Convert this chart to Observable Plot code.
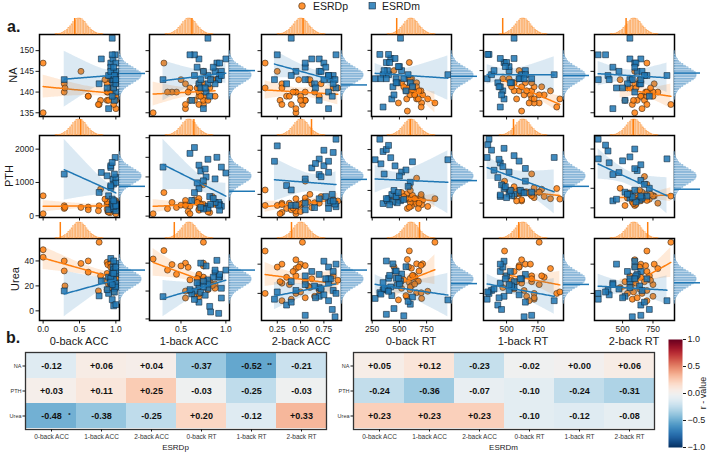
<!DOCTYPE html>
<html><head><meta charset="utf-8">
<script src="https://cdn.jsdelivr.net/npm/d3@7"></script>
<script src="https://cdn.jsdelivr.net/npm/@observablehq/plot@0.6"></script>
<style>
body{margin:0;background:#fff;font-family:"Liberation Sans",Arial,Helvetica,sans-serif;}
#root{position:relative;width:709px;height:453px;overflow:hidden;background:#fff;}
#root > *{position:absolute;}
svg{overflow:visible;}
.t{white-space:nowrap;color:#1a1a1a;line-height:1;}
</style></head><body><div id="root"></div>
<script>
const ORANGE = "#ff7f0e", BLUE = "#1f77b4";
const FONT = "'Liberation Sans', Arial, Helvetica, sans-serif";

const rowVars = ["NA", "PTH", "Urea"];
const colVars = ["0-back ACC", "1-back ACC", "2-back ACC", "0-back RT", "1-back RT", "2-back RT"];
const groups = ["ESRDp", "ESRDm"];

// ESRDp patients
const pNA   = [147,135,142,140,141,145,139,139,137,138,137,140,140,143,142,138,141,143,139,136,141,138,140,143,139,137,140,142,138,141];
const pPTH  = [600,60,300,220,250,250,260,180,300,800,150,350,120,280,200,420,90,330,300,400,380,60,310,500,300,270,190,450,110,350];
const pUrea = [49,43,40,32,20,38,40,31,55,28,16,39,37,38,30,17,27,25,22,20,32,28,18,24,26,15,35,23,21,29];
const pAcc0 = [0.00,0.00,0.29,0.29,0.30,0.52,0.62,0.62,0.77,0.79,0.76,0.88,0.89,0.93,0.88,0.88,0.92,0.95,0.97,1.00,0.97,1.00,0.95,0.85,1.00,0.97,0.93,1.00,0.90,0.96];
const pAcc1 = [0.31,0.19,0.55,0.45,0.60,0.75,0.75,0.70,0.75,0.75,0.70,0.40,0.58,0.50,0.75,0.65,0.82,0.88,0.88,0.55,0.70,0.60,0.70,0.85,0.72,0.55,0.35,0.70,0.80,0.68];
const pAcc2 = [0.12,0.45,0.30,0.45,0.12,0.25,0.50,0.35,0.52,0.55,0.40,0.55,0.45,0.48,0.62,0.55,0.30,0.58,0.70,0.45,0.85,0.28,0.65,0.60,0.38,0.30,0.42,0.72,0.50,0.90];
const pRt0  = [591,573,658,628,658,450,713,643,826,658,704,698,610,582,600,567,591,613,597,700,620,674,560,600,640,491,680,520,760,540];
const pRt1  = [484,620,650,700,720,600,690,800,760,700,720,600,850,600,700,720,620,520,640,900,780,580,660,470,760,680,560,560,925,540];
const pRt2  = [700,600,760,720,540,600,650,650,897,680,580,690,790,640,600,620,610,570,700,660,560,520,750,480,750,700,700,640,590,730];

// ESRDm patients
const mNA   = [143,144,148,153,147,148,149,145,144,142,140,138,136,142,143,145,146,141,143,144,147,139,143,145,142,144,149,141,143,146];
const mPTH  = [1250,1450,1300,250,1500,1100,1750,950,300,200,1000,400,180,700,350,250,850,220,1150,600,150,500,280,900,350,1250,1600,1200,300,450];
const mUrea = [16,22,24,28,42,35,20,33,30,25,38,18,27,12,30,22,26,40,19,14,32,9,4,23,35,15,21,17,5,30];
const mAcc0 = [0.29,0.93,0.80,0.95,0.93,0.96,0.99,0.97,1.00,0.97,1.00,0.98,0.90,0.77,0.95,1.00,0.93,0.97,1.00,0.90,1.00,0.95,0.97,0.93,1.00,0.98,0.95,0.88,1.00,0.97];
const mAcc1 = [0.30,0.80,0.70,0.80,0.90,1.00,0.65,0.88,0.93,0.80,0.78,0.62,0.75,0.70,0.92,0.95,0.68,0.72,0.72,0.65,0.93,0.82,0.92,0.75,0.88,0.95,0.60,0.77,0.83,0.86];
const mAcc2 = [0.22,0.85,0.70,0.40,0.75,0.62,0.88,0.70,0.80,0.65,0.80,0.70,0.80,0.35,0.82,0.45,0.55,0.88,0.75,0.40,0.55,0.84,0.87,0.72,0.85,0.80,0.25,0.66,0.55,0.77];
const mRt0  = [277,350,420,510,380,460,320,520,400,480,560,430,350,600,470,390,500,440,330,580,410,450,540,360,470,945,400,620,380,490];
const mRt1  = [345,380,560,560,480,450,360,650,620,540,470,480,450,430,610,520,520,450,600,650,500,460,640,400,530,880,350,440,700,490];
const mRt2  = [300,380,560,560,600,650,299,620,700,640,600,520,420,650,560,660,420,450,390,680,610,720,580,470,540,865,360,500,650,600];

// correlation matrices shown in panel b
const rP = [[-0.12, 0.06, 0.04,-0.37,-0.52,-0.21],
            [ 0.03, 0.11, 0.25,-0.03,-0.25,-0.03],
            [-0.48,-0.38,-0.25, 0.20,-0.12, 0.33]];
const rM = [[ 0.05, 0.12,-0.23,-0.02, 0.00, 0.06],
            [-0.24,-0.36,-0.07,-0.10,-0.24,-0.31],
            [ 0.23, 0.23, 0.23,-0.10,-0.12,-0.08]];
const sigP = [["","","","","**",""],["","","","","",""],["*","","","","",""]];
const sigM = [["","","","","",""],["","","","","",""],["","","","","",""]];

// tick labels
const rowTicks = [[135,140,145,150],[0,1000,2000],[0,20,40]];
const colTicks = [[0,0.5,1],[0.5,1],[0.25,0.5,0.75],[250,500,750],[500,750],[500,750]];
const colTickFmt = [".1f",".1f",".2f","d","d","d"];
const cbTicks = [-1,-0.5,0,0.5,1];

// null distribution of r (marginal histograms)
const nullStart = -0.6, nullWidth = 0.04;
const nullCounts = [1,1,2,3,5,7,10,14,19,24,30,36,41,45,47,47,45,41,36,30,24,19,14,10,7,5,3,2,1,1];

// ---------- layout ----------
const root = document.getElementById("root");
const colLeft = [39,149,261,371,483,594], rowTop = [34,135,238], PW = 80, PH = 82;
const rowLabelX = [13, 8.5, 15];
function place(el, x, y){ el.style.left = x + "px"; el.style.top = y + "px"; root.appendChild(el); return el; }
function text(str, x, y, o = {}){
  const d = document.createElement("div"); d.className = "t"; d.textContent = str;
  d.style.fontSize = (o.size || 11) + "px"; if (o.bold) d.style.fontWeight = "bold";
  d.style.transform = "translate(" + (o.ax ?? -50) + "%," + (o.ay ?? -50) + "%)" + (o.rot ? " rotate(" + o.rot + "deg)" : "");
  return place(d, x, y);
}

const pY = [pNA, pPTH, pUrea], pX = [pAcc0, pAcc1, pAcc2, pRt0, pRt1, pRt2];
const mY = [mNA, mPTH, mUrea], mX = [mAcc0, mAcc1, mAcc2, mRt0, mRt1, mRt2];

function fit(xs, ys){
  const n = xs.length, mx = d3.mean(xs), my = d3.mean(ys);
  let sxx = 0, sxy = 0;
  for (let i = 0; i < n; i++){ sxx += (xs[i]-mx)**2; sxy += (xs[i]-mx)*(ys[i]-my); }
  const b = sxy/sxx, a = my - b*mx;
  let sse = 0; for (let i = 0; i < n; i++) sse += (ys[i] - a - b*xs[i])**2;
  const s = Math.sqrt(sse/(n-2)), t = 2.048;
  const [x0, x1] = d3.extent(xs);
  return d3.range(61).map(i => { const x = x0 + (x1-x0)*i/60, yh = a + b*x, se = s*Math.sqrt(1/n + (x-mx)**2/sxx); return {x, y: yh, lo: yh - t*se, hi: yh + t*se}; });
}
function pad(e){ const r = e[1]-e[0]; return [e[0]-0.05*r, e[1]+0.05*r]; }

const hist = nullCounts.map((c, i) => ({a: nullStart + i*nullWidth, b: nullStart + (i+1)*nullWidth, c}));
const maxC = d3.max(nullCounts);
const baseStyle = {fontFamily: FONT, background: "transparent", overflow: "visible", color: "#1a1a1a"};

for (let ri = 0; ri < 3; ri++) for (let ci = 0; ci < 6; ci++){
  const L = colLeft[ci], T = rowTop[ri];
  const ptsP = pX[ci].map((x, i) => ({x, y: pY[ri][i]}));
  const ptsM = mX[ci].map((x, i) => ({x, y: mY[ri][i]}));
  const fp = fit(pX[ci], pY[ri]), fm = fit(mX[ci], mY[ri]);
  const xd = pad(d3.extent([...pX[ci], ...mX[ci]]));
  const yd = pad(d3.extent([...pY[ri], ...mY[ri], ...fp.flatMap(d => [d.lo, d.hi]), ...fm.flatMap(d => [d.lo, d.hi])]));
  const yt = (ci === 0 ? rowTicks[ri] : d3.ticks(yd[0], yd[1], 3)).filter(v => v >= yd[0] && v <= yd[1]);
  const ml = 36, mr = 4, mt = 4, mb = 30;
  const svg = Plot.plot({
    width: PW + ml + mr, height: PH + mt + mb, marginLeft: ml, marginRight: mr, marginTop: mt, marginBottom: mb,
    style: baseStyle, x: {domain: xd}, y: {domain: yd},
    marks: [
      Plot.areaY(fp, {x: "x", y1: "lo", y2: "hi", fill: ORANGE, fillOpacity: 0.16}),
      Plot.dot(ptsP, {x: "x", y: "y", symbol: "circle", r: 3, fill: ORANGE, fillOpacity: 0.85, stroke: "#3b2a1a", strokeWidth: 0.6}),
      Plot.line(fp, {x: "x", y: "y", stroke: ORANGE, strokeWidth: 1.5}),
      Plot.areaY(fm, {x: "x", y1: "lo", y2: "hi", fill: BLUE, fillOpacity: 0.16}),
      Plot.dot(ptsM, {x: "x", y: "y", symbol: "square", r: 3.3, fill: BLUE, fillOpacity: 0.85, stroke: "#142a3d", strokeWidth: 0.6}),
      Plot.line(fm, {x: "x", y: "y", stroke: BLUE, strokeWidth: 1.5}),
      Plot.axisX({ticks: colTicks[ci], tickSize: 3.5, tickPadding: 2, fontSize: 8.5, label: null, tickFormat: ri === 2 ? d3.format(colTickFmt[ci]) : () => ""}),
      Plot.axisY({ticks: yt, tickSize: 3.5, tickPadding: 2, fontSize: 8.5, label: null, tickFormat: ci === 0 ? d3.format("d") : () => ""}),
      Plot.frame({stroke: "#000", strokeWidth: 1.5})
    ]
  });
  place(svg, L - ml, T - mt);

  const top = Plot.plot({
    width: PW, height: 16, margin: 0, style: baseStyle,
    x: {domain: [-1, 1], axis: null}, y: {domain: [0, maxC], axis: null},
    marks: [
      Plot.rectY(hist, {x1: "a", x2: "b", y: "c", fill: "#fcd2ad", stroke: ORANGE, strokeOpacity: 0.55, strokeWidth: 0.5}),
      Plot.ruleX([{x: rP[ri][ci], y1: 0, y2: maxC}], {x: "x", y1: "y1", y2: "y2", stroke: ORANGE, strokeWidth: 1.5})
    ]
  });
  place(top, L, T - 16);

  const right = Plot.plot({
    width: 26, height: PH, margin: 0, style: baseStyle,
    x: {domain: [0, maxC * 1.18], axis: null}, y: {domain: [-1, 1], axis: null},
    marks: [
      Plot.rectX(hist, {y1: "a", y2: "b", x: "c", fill: "#c3d9ec", stroke: BLUE, strokeOpacity: 0.55, strokeWidth: 0.5}),
      Plot.ruleY([{y: rM[ri][ci], x1: 0, x2: maxC * 1.18}], {y: "y", x1: "x1", x2: "x2", stroke: BLUE, strokeWidth: 1.5})
    ]
  });
  place(right, L + PW, T);
}

// axis titles and row labels
colVars.forEach((c, ci) => text(c, colLeft[ci] + PW/2, 341, {size: 11}));
rowVars.forEach((r, ri) => text(r, rowLabelX[ri], rowTop[ri] + PH/2, {size: 11, rot: -90}));
text("a.", 7, 35, {size: 16, bold: true, ax: 0, ay: -100});
text("b.", 6, 346, {size: 16, bold: true, ax: 0, ay: -100});

// legend
const leg = document.createElement("div");
leg.innerHTML = '<svg width="140" height="14"><circle cx="6" cy="7" r="3.3" fill="' + ORANGE + '" fill-opacity="0.85" stroke="#3b2a1a" stroke-width="0.6"/>' +
  '<text x="17" y="10.5" font-size="10.5" font-family="' + FONT.replace(/'/g, "") + '" fill="#1a1a1a">' + groups[0] + '</text>' +
  '<rect x="73" y="3.5" width="6.5" height="6.5" fill="' + BLUE + '" fill-opacity="0.85" stroke="#142a3d" stroke-width="0.6"/>' +
  '<text x="86" y="10.5" font-size="10.5" font-family="' + FONT.replace(/'/g, "") + '" fill="#1a1a1a">' + groups[1] + '</text></svg>';
place(leg, 296, -1);

// heatmaps
const color = {type: "linear", domain: [-1, 1], scheme: "RdBu", reverse: true};
const fmtR = v => (v >= 0 ? "+" : "-") + Math.abs(v).toFixed(2);
[[rP, sigP, 0], [rM, sigM, 328]].forEach(([R, S, x0], gi) => {
  const cells = rowVars.flatMap((rv, ri) => colVars.map((cv, ci) => ({row: rv, col: cv, r: R[ri][ci], s: S[ri][ci]})));
  const hm = Plot.plot({
    width: 330, height: 104, marginLeft: 25, marginRight: 4, marginTop: 1, marginBottom: 26,
    style: baseStyle, color,
    x: {domain: colVars, padding: 0}, y: {domain: rowVars, padding: 0},
    marks: [
      Plot.cell(cells, {x: "col", y: "row", fill: "r"}),
      Plot.text(cells, {x: "col", y: "row", text: d => fmtR(d.r), fontWeight: "bold", fontSize: 9, fill: "#111"}),
      Plot.text(cells, {x: "col", y: "row", text: "s", dx: 18, dy: -1, fontWeight: "bold", fontSize: 6, fill: "#111"}),
      Plot.frame({stroke: "#333", strokeWidth: 1.3}),
      Plot.axisX({tickSize: 2.5, tickPadding: 2.5, fontSize: 6.5, label: null, fill: "#333"}),
      Plot.axisY({tickSize: 2.5, tickPadding: 1.5, fontSize: 5.5, label: null, fill: "#333"})
    ]
  });
  place(hm, x0, 351);
  text(groups[gi], x0 + 25 + 150.5, 448, {size: 8});
});

// colorbar
const cb = Plot.plot({
  width: 44, height: 108, marginLeft: 0, marginRight: 30, marginTop: 0, marginBottom: 0,
  style: baseStyle, color,
  x: {domain: [0, 1], axis: null}, y: {domain: [-1, 1], axis: null},
  marks: [
    Plot.raster({x1: 0, x2: 1, y1: -1, y2: 1, width: 1, height: 200, fill: (x, y) => y}),
    Plot.axisY({anchor: "right", ticks: cbTicks, tickFormat: d3.format(".1f"), tickSize: 3, tickPadding: 2, fontSize: 9, label: null})
  ]
});
place(cb, 668, 339);
text("r - value", 703, 393, {size: 9, rot: -90});
</script>
</body></html>
